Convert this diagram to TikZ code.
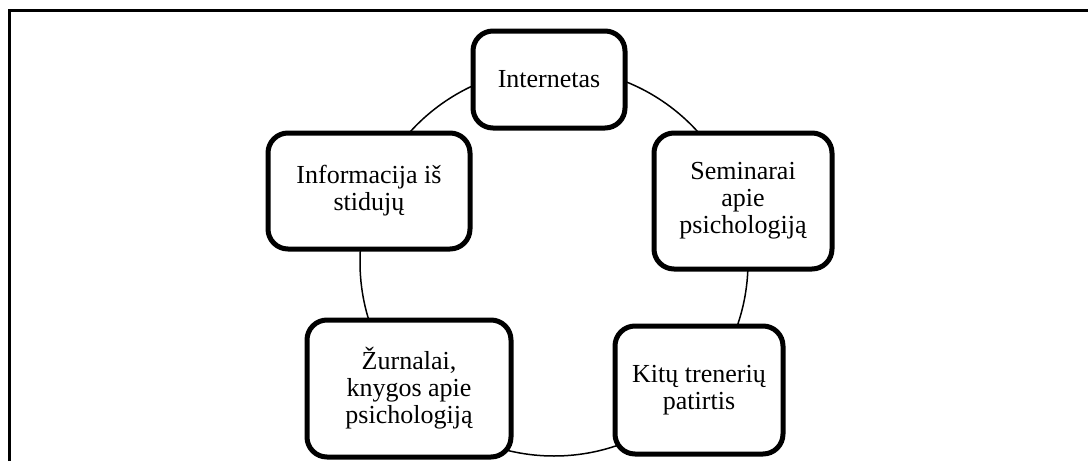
\documentclass[tikz,border=0pt]{standalone}
\usepackage{fontspec}
\setmainfont{Liberation Serif}
\begin{document}
\begin{tikzpicture}[x=1pt,y=-1pt,
  ring/.style={line width=1.5pt},
  frameline/.style={line width=2.3pt},
  cyclebox/.style={draw=black, line width=5pt, rounded corners=20pt, fill=white,
    align=center, inner sep=0pt, font=\fontsize{26}{27}\selectfont},
  ]
\useasboundingbox (0,0) rectangle (1088,461);
% outer frame: left and top edges only
\coordinate (fbl) at (9.5,461);
\coordinate (ftl) at (9.5,10.5);
\coordinate (ftr) at (1088,10.5);
\draw[frameline] (fbl) -- (ftl) -- (ftr);
% ring behind the boxes
\coordinate (hub) at (554,262);
\draw[ring] (hub) circle (194pt);
% the five boxes
\node[cyclebox, minimum width=152pt, minimum height=97pt] (net) at (549,79.5) {Internetas};
\node[cyclebox, minimum width=178pt, minimum height=136pt] (sem) at (743,201) {Seminarai\\apie\\psichologiją};
\node[cyclebox, minimum width=168pt, minimum height=128pt] (kit) at (699,390) {Kitų trenerių\\patirtis};
\node[cyclebox, minimum width=204pt, minimum height=137pt] (zur) at (409,388.5) {Žurnalai,\\knygos apie\\psichologiją};
\node[cyclebox, minimum width=202pt, minimum height=116pt] (inf) at (369,191) {Informacija iš\\stidujų};
\end{tikzpicture}
\end{document}
